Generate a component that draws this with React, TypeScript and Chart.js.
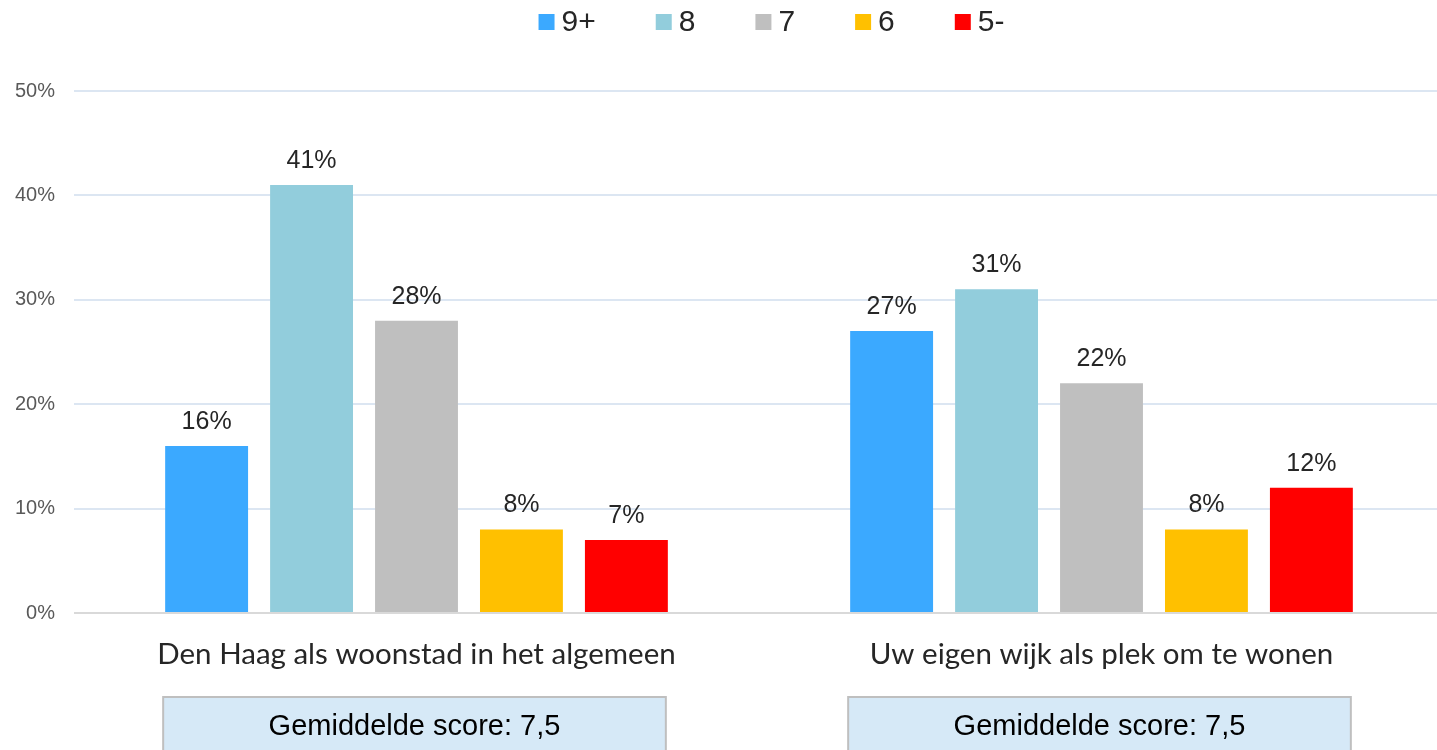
import React, { useEffect, useRef } from "react";
import { Chart, registerables } from "chart.js";

Chart.register(...registerables);

const categories = ["Den Haag als woonstad in het algemeen", "Uw eigen wijk als plek om te wonen"];
const seriesLabels = ["9+", "8", "7", "6", "5-"];
const seriesColors = ["#3BA9FF", "#92CDDC", "#BFBFBF", "#FFC000", "#FF0000"];
const score9plus = [16, 27];
const score8 = [41, 31];
const score7 = [28, 22];
const score6 = [8, 8];
const score5min = [7, 12];
const averageScores = ["7,5", "7,5"];
const yTicks = [0, 10, 20, 30, 40, 50];

const seriesValues = [score9plus, score8, score7, score6, score5min];

const customPlugin = {
  id: "custom",
  afterDatasetsDraw(chart: any) {
    const ctx = chart.ctx;
    ctx.save();
    ctx.font = "25px 'Liberation Sans', Arial, sans-serif";
    ctx.fillStyle = "#262626";
    ctx.textAlign = "center";
    ctx.textBaseline = "alphabetic";
    chart.data.datasets.forEach((ds: any, di: number) => {
      const meta = chart.getDatasetMeta(di);
      meta.data.forEach((bar: any, i: number) => {
        ctx.fillText(`${ds.data[i]}%`, bar.x, bar.y - 17);
      });
    });
    ctx.restore();
  },
  afterDraw(chart: any) {
    const ctx = chart.ctx;
    const area = chart.chartArea;
    ctx.save();
    // legend
    ctx.font = "30px 'Liberation Sans', Arial, sans-serif";
    const box = 16;
    const gapText = 7;
    const itemGap = 60;
    const widths = seriesLabels.map((l) => box + gapText + ctx.measureText(l).width);
    const total = widths.reduce((a, b) => a + b, 0) + itemGap * (widths.length - 1);
    let x = (area.left + area.right) / 2 + 12.5 - total / 2;
    const cy = 22;
    ctx.textBaseline = "middle";
    ctx.textAlign = "left";
    seriesLabels.forEach((l, i) => {
      ctx.fillStyle = seriesColors[i];
      ctx.fillRect(x, cy - box / 2, box, box);
      ctx.fillStyle = "#262626";
      ctx.fillText(l, x + box + gapText, cy + 1);
      x += widths[i] + itemGap;
    });
    // average score boxes
    const first = chart.getDatasetMeta(0);
    const last = chart.getDatasetMeta(chart.data.datasets.length - 1);
    categories.forEach((_, i) => {
      const b0 = first.data[i];
      const b1 = last.data[i];
      const left = b0.x - b0.width / 2 - 2;
      const right = b1.x + b1.width / 2 - 2;
      const top = area.bottom + 84;
      const h = chart.height - top + 10;
      ctx.fillStyle = "#D6E9F7";
      ctx.fillRect(left, top, right - left, h);
      ctx.strokeStyle = "#BFBFBF";
      ctx.lineWidth = 2;
      ctx.strokeRect(left, top, right - left, h);
      ctx.fillStyle = "#000000";
      ctx.font = "29px 'Liberation Sans', Arial, sans-serif";
      ctx.textAlign = "center";
      ctx.textBaseline = "middle";
      ctx.fillText(`Gemiddelde score: ${averageScores[i]}`, (left + right) / 2, top + 30);
    });
    ctx.restore();
  },
};

export default function App() {
  const ref = useRef<HTMLCanvasElement>(null);
  useEffect(() => {
    document.body.style.margin = "0";
    const chart = new Chart(ref.current!, {
      type: "bar",
      data: {
        labels: categories,
        datasets: seriesLabels.map((l, i) => ({
          label: l,
          data: seriesValues[i],
          backgroundColor: seriesColors[i],
          borderWidth: 0,
          categoryPercentage: 0.766,
          barPercentage: 0.79,
        })),
      },
      options: {
        animation: false,
        responsive: false,
        maintainAspectRatio: false,
        layout: { padding: { top: 91, right: 0, left: 0, bottom: 0 } },
        plugins: {
          legend: { display: false },
          tooltip: { enabled: false },
        },
        scales: {
          x: {
            grid: { display: false, drawTicks: false },
            border: { display: false },
            ticks: {
              padding: 24,
              color: "#262626",
              font: { family: "Lato, 'Open Sans', sans-serif", size: 29.5 },
            },
            afterFit: (s: any) => {
              s.height = 137;
            },
          },
          y: {
            min: 0,
            max: 50,
            afterBuildTicks: (s: any) => {
              s.ticks = yTicks.map((v) => ({ value: v }));
            },
            grid: {
              drawTicks: false,
              color: (c: any) => (c.tick && c.tick.value === 0 ? "#D9D9D9" : "#DCE6F2"),
              lineWidth: 2,
            },
            border: { display: false },
            ticks: {
              padding: 19,
              color: "#595959",
              font: { family: "'Liberation Sans', Arial, sans-serif", size: 20 },
              callback: (v: any) => `${v}%`,
            },
            afterFit: (s: any) => {
              s.width = 74;
            },
          },
        },
      },
      plugins: [customPlugin],
    });
    return () => chart.destroy();
  }, []);
  return (
    <div style={{ width: 1437, height: 750, overflow: "hidden" }}>
      <canvas ref={ref} width={1444} height={750} style={{ display: "block" }} />
    </div>
  );
}
